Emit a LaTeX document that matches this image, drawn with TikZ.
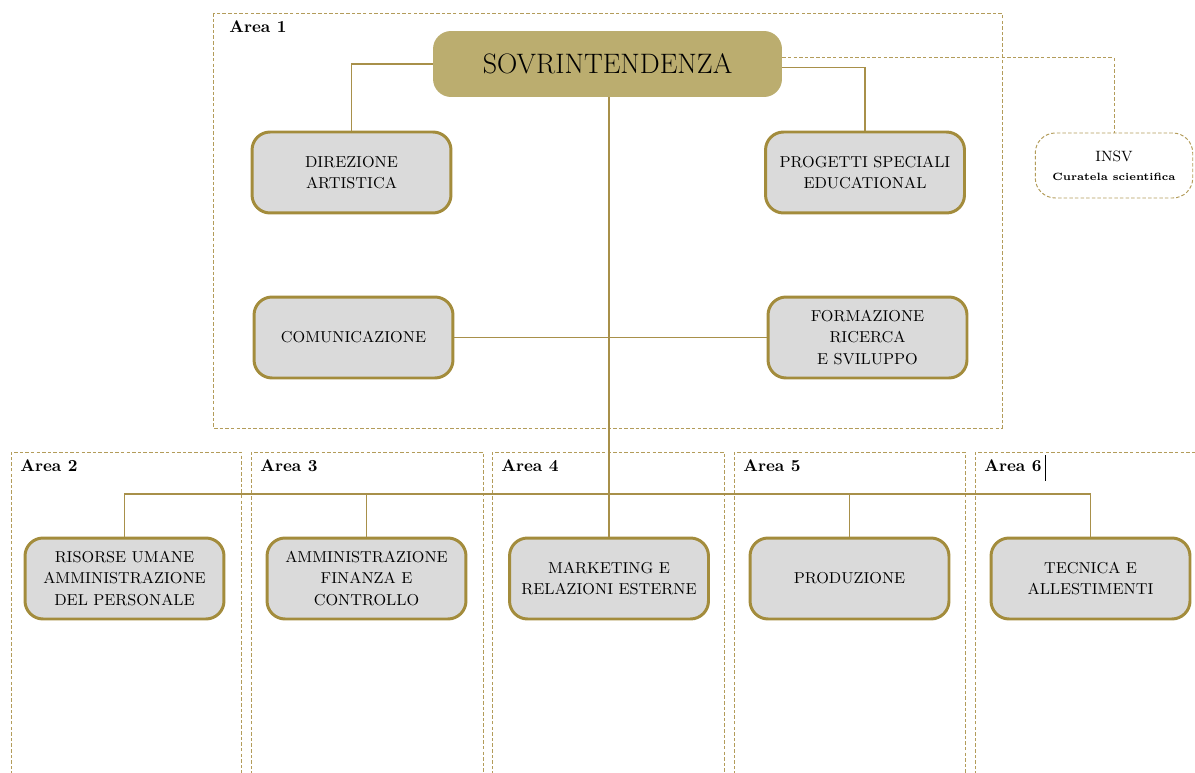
\documentclass[tikz,border=0pt]{standalone}
\usepackage{tikz}
\usepackage{color}
\definecolor{oro}{HTML}{BBAD6F}
\definecolor{bordo}{HTML}{A38C3C}
\definecolor{grigio}{HTML}{DADADA}
\definecolor{filo}{HTML}{A8904A}
\definecolor{tratto}{HTML}{B39C5A}
\tikzset{
  ufficio/.style={draw=bordo, line width=1.7pt, fill=grigio, rounded corners=0.36cm,
    minimum width=3.98cm, minimum height=1.62cm, align=center, inner sep=1pt,
    font=\fontsize{9}{12.2}\selectfont},
  area/.style={draw=tratto, line width=0.55pt, dash pattern=on 2pt off 1.2pt},
  etichetta/.style={anchor=west, inner sep=0pt, font=\bfseries\fontsize{9.6}{12}\selectfont},
  linea/.style={draw=filo, line width=0.6pt}
}
\begin{document}
\begin{tikzpicture}[x=0.02cm, y=-0.02cm]
\useasboundingbox (0,0) rectangle (1195,773);
\draw [area] (213,13) rectangle (1002,428);
\node [etichetta] (a1) at (229,27) {Area 1};
\foreach \l/\r/\n in {11/241/2, 251/483/3, 492/724/4, 734/965/5, 975/1197/6}
  {\draw [area] (\l,775) |- (\r,452) -- (\r,775);
   \node [etichetta] (a\n) at (\l+9,466) {Area \n};}
\draw [line width=0.5pt] (1045,455) -- (1045,481);
\node [fill=oro, rounded corners=0.36cm, minimum width=6.98cm, minimum height=1.32cm,
  font=\fontsize{16}{18}\selectfont] (sov) at (607.5,64) {SOVRINTENDENZA};
\node [ufficio] (dir) at (351.5,172.5) {DIREZIONE\\ARTISTICA};
\node [ufficio] (prog) at (865,172.5) {PROGETTI SPECIALI\\EDUCATIONAL};
\node [ufficio] (com) at (353.5,337.5) {COMUNICAZIONE};
\node [ufficio] (form) at (867.5,337.5) {FORMAZIONE\\RICERCA\\E SVILUPPO};
\node [area, rounded corners=0.4cm, minimum width=3.15cm, minimum height=1.3cm,
  align=center, inner sep=1pt] (insv) at (1114,165.5)
  {\fontsize{8.5}{10}\selectfont INSV\\[-1pt]\bfseries\fontsize{6}{7}\selectfont Curatela scientifica};
\node [ufficio] (ris) at (124.5,578.5) {RISORSE UMANE\\AMMINISTRAZIONE\\DEL PERSONALE};
\node [ufficio] (amm) at (366.5,578.5) {AMMINISTRAZIONE\\FINANZA E\\CONTROLLO};
\node [ufficio] (mkt) at (609,578.5) {MARKETING E\\RELAZIONI ESTERNE};
\node [ufficio] (prod) at (849.5,578.5) {PRODUZIONE};
\node [ufficio] (tec) at (1090.5,578.5) {TECNICA E\\ALLESTIMENTI};
\coordinate (bus) at (0,494);
\draw [linea] (sov.west) -| (dir.north);
\draw [linea] (sov.-1) -| (prog.north);
\draw [area] (sov.2) -| (insv.north);
\draw [linea] (com.east) -- (form.west);
\draw [linea] (mkt.north |- sov.south) -- (mkt.north);
\draw [linea] (ris.north) -- (ris.north |- bus) -- (tec.north |- bus) -- (tec.north);
\draw [linea] (amm.north |- bus) -- (amm.north);
\draw [linea] (prod.north |- bus) -- (prod.north);
\end{tikzpicture}
\end{document}
